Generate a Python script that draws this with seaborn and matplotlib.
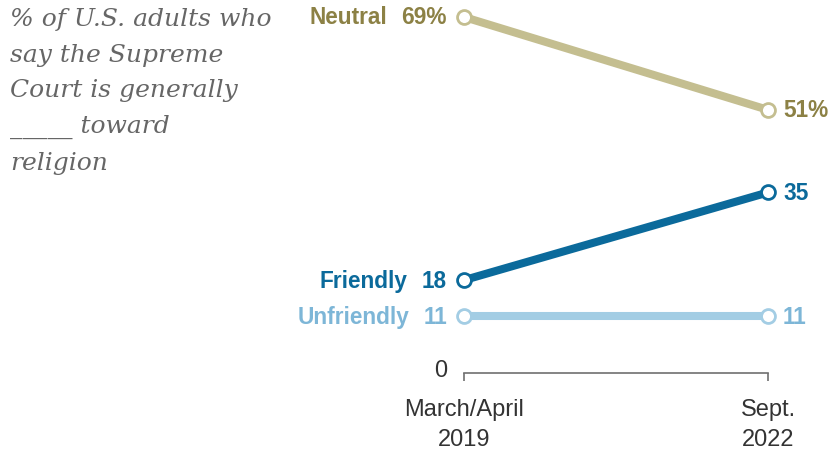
import matplotlib
matplotlib.use("Agg")
import matplotlib.pyplot as plt
import seaborn as sns
import pandas as pd

periods = ["March/April\n2019", "Sept.\n2022"]
series = ["Neutral", "Friendly", "Unfriendly"]
neutral = [69, 51]
friendly = [18, 35]
unfriendly = [11, 11]

line_colors = {"Neutral": "#c4be90", "Friendly": "#0b6a9b", "Unfriendly": "#a3cde4"}
text_colors = {"Neutral": "#8c8145", "Friendly": "#0b6a9b", "Unfriendly": "#7db6d7"}

rows = []
for name, vals in zip(series, [neutral, friendly, unfriendly]):
    for i, v in enumerate(vals):
        rows.append({"series": name, "x": i, "value": v})
df = pd.DataFrame(rows)

sns.set_theme(style="white")
W, H = 838, 452
fig = plt.figure(figsize=(W / 100, H / 100), dpi=100)
x0, x1 = 464, 768
y0, ytop = 374, 18
ax = fig.add_axes([x0 / W, 1 - y0 / H, (x1 - x0) / W, (y0 - ytop) / H])

for name in series:
    sub = df[df.series == name]
    sns.lineplot(data=sub, x="x", y="value", ax=ax, color=line_colors[name],
                 linewidth=5.8, marker="o", markersize=10,
                 markerfacecolor="white", markeredgecolor=line_colors[name],
                 markeredgewidth=2.0, clip_on=False, legend=False,
                 solid_capstyle="butt", zorder=3)

ax.set_xlim(0, 1)
ax.set_ylim(0, 69)
ax.set_xlabel("")
ax.set_ylabel("")
ax.set_yticks([])
for s in ["left", "right", "top"]:
    ax.spines[s].set_visible(False)
ax.spines["bottom"].set_color("#707070")
ax.spines["bottom"].set_linewidth(1.2)
ax.set_xticks([0, 1])
ax.set_xticklabels([])
ax.tick_params(axis="x", direction="out", length=6, width=1.2, color="#707070", bottom=True)

sans = ["Liberation Sans", "DejaVu Sans"]
for i, lab in enumerate(periods):
    l1, l2 = lab.split("\n")
    ax.annotate(l1, xy=(i, 0), xycoords="data", xytext=(0, -36), textcoords="offset pixels",
                ha="center", va="center", fontsize=17, color="#333333", family=sans)
    ax.annotate(l2, xy=(i, 0), xycoords="data", xytext=(0, -66), textcoords="offset pixels",
                ha="center", va="center", fontsize=17, color="#333333", family=sans)
ax.annotate("0", xy=(0, 0), xytext=(-17, 3), textcoords="offset pixels",
            ha="right", va="center", fontsize=17, color="#333333", family=sans)

fig.canvas.draw()
renderer = fig.canvas.get_renderer()
fs_lab = 16.3
for name, vals in zip(series, [neutral, friendly, unfriendly]):
    suffix = "%" if name == "Neutral" else ""
    c = text_colors[name]
    val_txt = ax.annotate(f"{vals[0]}{suffix}", xy=(0, vals[0]), xytext=(-17, 0),
                          textcoords="offset pixels", ha="right", va="center",
                          fontsize=fs_lab, fontweight="bold", color=c, family=sans)
    bb = val_txt.get_window_extent(renderer)
    ax_bb = ax.get_window_extent(renderer)
    gap = bb.x0 - ax_bb.x0 - 14
    ax.annotate(name, xy=(0, vals[0]), xytext=(gap, 0), textcoords="offset pixels",
                ha="right", va="center", fontsize=fs_lab, fontweight="bold", color=c, family=sans)
    ax.annotate(f"{vals[1]}{suffix}", xy=(1, vals[1]), xytext=(15, 0), textcoords="offset pixels",
                ha="left", va="center", fontsize=fs_lab, fontweight="bold", color=c, family=sans)

fig.text(10 / W, 1 - 8 / H,
         "% of U.S. adults who\nsay the Supreme\nCourt is generally\n_____ toward\nreligion",
         ha="left", va="top", fontsize=18, style="italic", color="#666666",
         family=["DejaVu Serif"], linespacing=1.7)

fig.savefig("out.png", dpi=100)
